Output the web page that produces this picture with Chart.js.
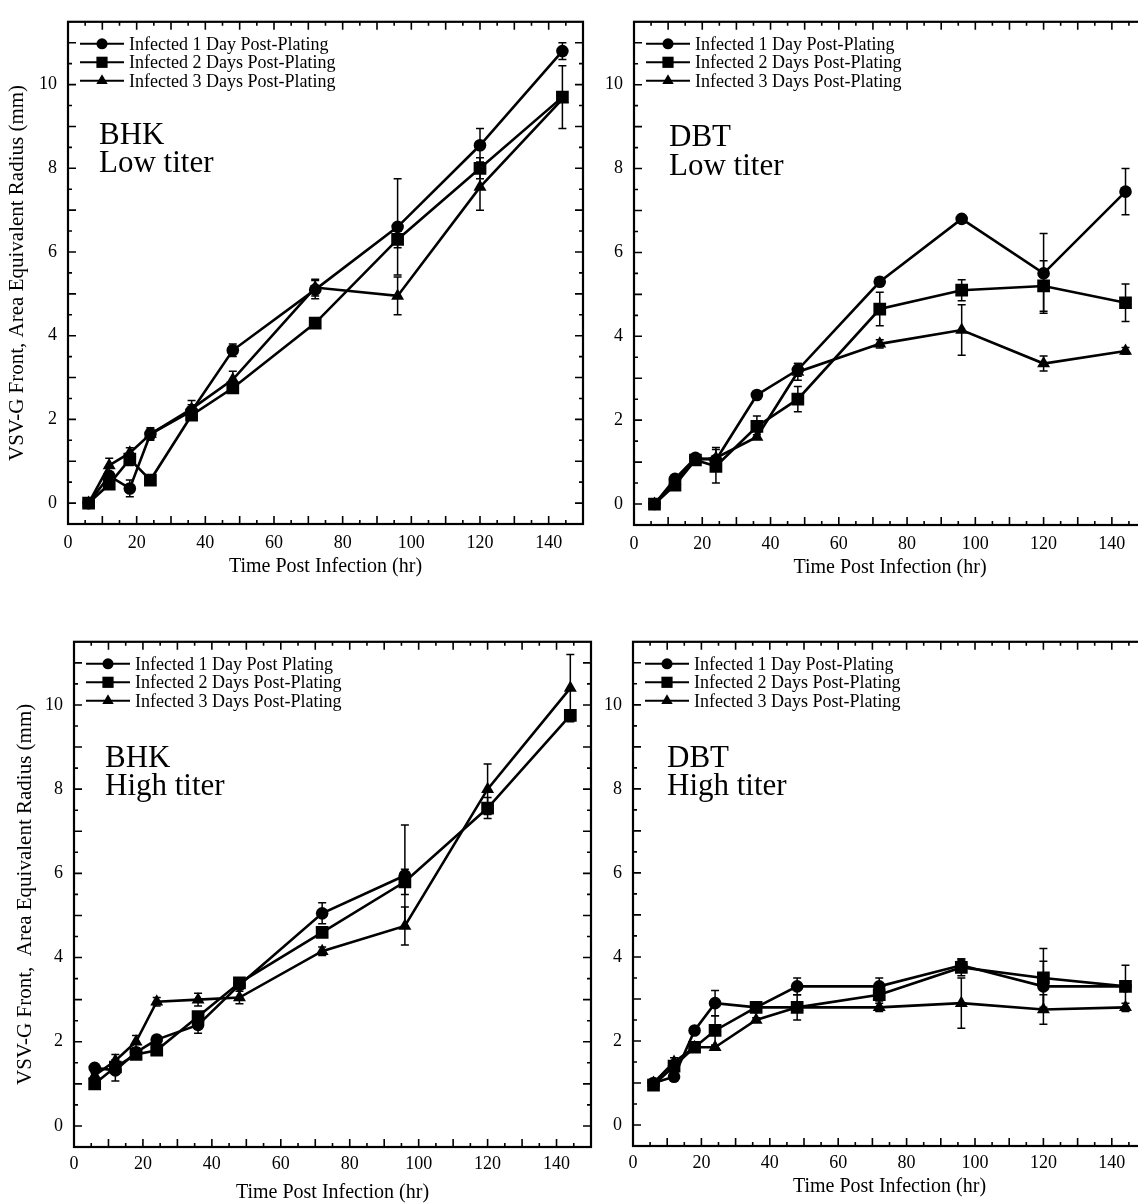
<!DOCTYPE html>
<html>
<head>
<meta charset="utf-8">
<title>VSV-G front vs time post infection</title>
<script src="https://cdn.jsdelivr.net/npm/chart.js@4.4.1/dist/chart.umd.min.js"></script>
<style>
html, body { margin: 0; padding: 0; background: #fff; }
#page { position: relative; width: 1138px; height: 1203px; overflow: hidden; background: #fff; }
#page canvas { position: absolute; }
</style>
</head>
<body>
<div id="page">
  <canvas id="bhkLow" width="592" height="600" style="left:0px;top:0px"></canvas>
  <canvas id="dbtLow" width="580" height="600" style="left:592px;top:0px"></canvas>
  <canvas id="bhkHigh" width="600" height="600" style="left:0px;top:620px"></canvas>
  <canvas id="dbtHigh" width="580" height="600" style="left:592px;top:620px"></canvas>
</div>
<script>
// time points (hr)
var times = [6, 12, 18, 24, 36, 48, 72, 96, 120, 144];
var xTickLabels = [0, 20, 40, 60, 80, 100, 120, 140];
var yTickLabels = [0, 2, 4, 6, 8, 10];

// BHK, low titer
var bhkLow1 = [0, 0.65, 0.35, 1.65, 2.2, 3.65, 5.1, 6.6, 8.55, 10.8];
var bhkLow1Err = [0, 0.1, 0.2, 0.15, 0.15, 0.15, 0.22, 1.15, 0.4, 0.2];
var bhkLow2 = [0, 0.45, 1.05, 0.55, 2.1, 2.75, 4.3, 6.3, 8.0, 9.7];
var bhkLow2Err = [0, 0.1, 0.15, 0.05, 0.1, 0.1, 0.1, 0.2, 0.25, 0.75];
var bhkLow3 = [0, 0.9, 1.2, 1.65, 2.25, 2.95, 5.15, 4.95, 7.55, 9.65];
var bhkLow3Err = [0, 0.17, 0.12, 0.12, 0.2, 0.2, 0.2, 0.45, 0.55, 0];

// DBT, low titer
var dbtLow1 = [0, 0.6, 1.1, 1.05, 2.6, 3.2, 5.3, 6.8, 5.5, 7.45];
var dbtLow1Err = [0, 0.05, 0.05, 0.1, 0.05, 0.15, 0.05, 0.05, 0.95, 0.55];
var dbtLow2 = [0, 0.45, 1.05, 0.9, 1.85, 2.5, 4.65, 5.1, 5.2, 4.8];
var dbtLow2Err = [0, 0.05, 0.05, 0.4, 0.25, 0.3, 0.4, 0.25, 0.6, 0.45];
var dbtLow3 = [0, 0.55, 1.05, 1.1, 1.6, 3.15, 3.82, 4.15, 3.35, 3.65];
var dbtLow3Err = [0, 0.05, 0.05, 0.25, 0.05, 0.2, 0.1, 0.6, 0.18, 0.08];

// BHK, high titer
var bhkHigh1 = [1.38, 1.32, 1.75, 2.05, 2.4, 3.35, 5.05, 5.95, null, null];
var bhkHigh1Err = [0.05, 0.25, 0.1, 0.1, 0.2, 0.1, 0.25, 1.2, 0, 0];
var bhkHigh2 = [1.0, 1.4, 1.7, 1.8, 2.6, 3.4, 4.6, 5.8, 7.55, 9.75];
var bhkHigh2Err = [0.05, 0.1, 0.1, 0.1, 0.1, 0.1, 0.1, 0.3, 0.25, 0.1];
var bhkHigh3 = [1.2, 1.55, 2.0, 2.95, 3.0, 3.05, 4.15, 4.75, 8.0, 10.4];
var bhkHigh3Err = [0.05, 0.15, 0.15, 0.1, 0.15, 0.15, 0.1, 0.45, 0.6, 0.8];

// DBT, high titer
var dbtHigh1 = [1.0, 1.15, 2.25, 2.9, 2.8, 3.3, 3.3, 3.8, 3.3, 3.3];
var dbtHigh1Err = [0.05, 0.05, 0.05, 0.3, 0.05, 0.2, 0.2, 0.15, 0.6, 0.05];
var dbtHigh2 = [0.95, 1.4, 1.85, 2.25, 2.8, 2.8, 3.1, 3.75, 3.5, 3.3];
var dbtHigh2Err = [0.05, 0.1, 0.05, 0.35, 0.1, 0.3, 0.15, 0.2, 0.7, 0.5];
var dbtHigh3 = [1.0, 1.5, 1.85, 1.85, 2.5, 2.8, 2.8, 2.9, 2.75, 2.8];
var dbtHigh3Err = [0.05, 0.1, 0.05, 0.05, 0.05, 0.05, 0.1, 0.6, 0.35, 0.1];

var legendNames = ['Infected 1 Day Post-Plating', 'Infected 2 Days Post-Plating', 'Infected 3 Days Post-Plating'];
var legendNamesBhkHigh = ['Infected 1 Day Post Plating', 'Infected 2 Days Post-Plating', 'Infected 3 Days Post-Plating'];

var SERIF = "'Liberation Serif', 'Times New Roman', serif";
Chart.defaults.font.family = SERIF;
Chart.defaults.color = '#000';

var markers = [
    { style: 'circle', radius: 6.3 },
    { style: 'rect', radius: 9 },
    { style: 'triangle', radius: 7.5 }
];

// border of the plot + inward ticks on all four sides
var frameTicks = {
    id: 'frameTicks',
    afterDatasetsDraw: function(chart) {
        var a = chart.chartArea, xs = chart.scales.x, ys = chart.scales.y, ctx = chart.ctx;
        ctx.save();
        ctx.strokeStyle = '#000';
        ctx.lineWidth = 1.6;
        ctx.beginPath();
        for (var v = 5; v < 150; v += 5) {
            var px = xs.getPixelForValue(v);
            var len = v % 10 === 0 ? 8 : 4;
            ctx.moveTo(px, a.bottom); ctx.lineTo(px, a.bottom - len);
            ctx.moveTo(px, a.top); ctx.lineTo(px, a.top + len);
        }
        for (var w = 0; w < 11.5; w += 0.5) {
            var py = ys.getPixelForValue(w);
            var l2 = w % 1 === 0 ? 8 : 4;
            ctx.moveTo(a.left, py); ctx.lineTo(a.left + l2, py);
            ctx.moveTo(a.right, py); ctx.lineTo(a.right - l2, py);
        }
        ctx.stroke();
        ctx.lineWidth = 2.2;
        ctx.strokeRect(a.left, a.top, a.right - a.left, a.bottom - a.top);
        ctx.restore();
    }
};

// vertical error bars, taken from dataset.errors
var errorBars = {
    id: 'errorBars',
    afterDatasetsDraw: function(chart) {
        var ctx = chart.ctx, xs = chart.scales.x, ys = chart.scales.y;
        ctx.save();
        ctx.strokeStyle = '#000';
        ctx.lineWidth = 1.5;
        chart.data.datasets.forEach(function(ds) {
            ds.data.forEach(function(p, i) {
                var e = ds.errors[i];
                if (p.y === null || !e) return;
                var x = xs.getPixelForValue(p.x);
                var y1 = ys.getPixelForValue(p.y + e);
                var y2 = ys.getPixelForValue(p.y - e);
                ctx.beginPath();
                ctx.moveTo(x, y1); ctx.lineTo(x, y2);
                ctx.moveTo(x - 4, y1); ctx.lineTo(x + 4, y1);
                ctx.moveTo(x - 4, y2); ctx.lineTo(x + 4, y2);
                ctx.stroke();
            });
        });
        ctx.restore();
    }
};

// legend in the upper left corner and the cell/titer label
var panelText = {
    id: 'panelText',
    afterDraw: function(chart) {
        var ctx = chart.ctx, a = chart.chartArea;
        var o = chart.options.plugins.panelText;
        ctx.save();
        ctx.fillStyle = '#000';
        ctx.strokeStyle = '#000';
        chart.data.datasets.forEach(function(ds, i) {
            var y = a.top + 22 + i * 18.5;
            ctx.lineWidth = 2;
            ctx.beginPath();
            ctx.moveTo(a.left + 12, y); ctx.lineTo(a.left + 56, y);
            ctx.stroke();
            Chart.helpers.drawPoint(ctx, {
                pointStyle: markers[i].style,
                radius: markers[i].radius * 0.88,
                rotation: 0,
                borderWidth: 0
            }, a.left + 34, y);
            ctx.font = '18px ' + SERIF;
            ctx.textBaseline = 'middle';
            ctx.fillText(ds.label, a.left + 61, y + 1);
        });
        ctx.font = '31px ' + SERIF;
        ctx.textBaseline = 'alphabetic';
        ctx.fillText(o.lines[0], a.left + o.dx, o.base[0]);
        ctx.fillText(o.lines[1], a.left + o.dx, o.base[1]);
        ctx.restore();
    }
};

function makePanel(id, series, names, cfg) {
    var datasets = series.map(function(s, k) {
        return {
            label: names[k],
            data: times.map(function(t, i) { return { x: t, y: s[0][i] }; }),
            errors: s[1],
            borderColor: '#000',
            backgroundColor: '#000',
            borderWidth: 2.6,
            pointStyle: markers[k].style,
            pointRadius: markers[k].radius,
            pointBackgroundColor: '#000',
            pointBorderWidth: 0,
            tension: 0,
            spanGaps: false
        };
    });
    return new Chart(document.getElementById(id), {
        type: 'line',
        data: { datasets: datasets },
        plugins: [frameTicks, errorBars, panelText],
        options: {
            responsive: false,
            animation: false,
            devicePixelRatio: 1,
            events: [],
            layout: { padding: { top: cfg.top, right: cfg.right, left: 0, bottom: 0 } },
            plugins: {
                legend: { display: false },
                tooltip: { enabled: false },
                panelText: { lines: cfg.lines, base: cfg.base, dx: cfg.dx }
            },
            scales: {
                x: {
                    type: 'linear',
                    min: 0,
                    max: 150,
                    afterBuildTicks: function(s) { s.ticks = xTickLabels.map(function(v) { return { value: v }; }); },
                    afterFit: function(s) { s.height = cfg.xHeight; },
                    grid: { display: false, drawTicks: false, tickLength: 0 },
                    border: { display: false },
                    ticks: { font: { size: 18 }, color: '#000', padding: cfg.xTickPad, maxRotation: 0, autoSkip: false },
                    title: {
                        display: true,
                        text: 'Time Post Infection (hr)',
                        color: '#000',
                        font: { size: 20 },
                        padding: { top: 0, bottom: cfg.xTitlePad }
                    }
                },
                y: {
                    type: 'linear',
                    min: -0.5,
                    max: 11.5,
                    afterBuildTicks: function(s) { s.ticks = yTickLabels.map(function(v) { return { value: v }; }); },
                    afterFit: function(s) { s.width = cfg.yWidth; },
                    grid: { display: false, drawTicks: false, tickLength: 0 },
                    border: { display: false },
                    ticks: { font: { size: 18 }, color: '#000', padding: 11 },
                    title: {
                        display: !!cfg.yTitle,
                        text: cfg.yTitle || '',
                        color: '#000',
                        font: { size: 21 },
                        padding: { top: cfg.yTitlePad, bottom: 0 }
                    }
                }
            }
        }
    });
}

makePanel('bhkLow',
    [[bhkLow1, bhkLow1Err], [bhkLow2, bhkLow2Err], [bhkLow3, bhkLow3Err]],
    legendNames,
    { top: 13, right: 8, yWidth: 68, xHeight: 76, xTickPad: 8, xTitlePad: 21,
      yTitle: 'VSV-G Front, Area Equivalent Radius (mm)', yTitlePad: 5,
      lines: ['BHK', 'Low titer'], base: [144, 172], dx: 31 });

makePanel('dbtLow',
    [[dbtLow1, dbtLow1Err], [dbtLow2, dbtLow2Err], [dbtLow3, dbtLow3Err]],
    legendNames,
    { top: 14, right: 26, yWidth: 42, xHeight: 75, xTickPad: 8, xTitlePad: 20,
      yTitle: null, yTitlePad: 0,
      lines: ['DBT', 'Low titer'], base: [146, 175], dx: 35 });

makePanel('bhkHigh',
    [[bhkHigh1, bhkHigh1Err], [bhkHigh2, bhkHigh2Err], [bhkHigh3, bhkHigh3Err]],
    legendNamesBhkHigh,
    { top: 16, right: 9, yWidth: 74, xHeight: 73, xTickPad: 6, xTitlePad: 15,
      yTitle: 'VSV-G Front,  Area Equivalent Radius (mm)', yTitlePad: 13,
      lines: ['BHK', 'High titer'], base: [767, 795].map(function(v) { return v - 620; }), dx: 31 });

makePanel('dbtHigh',
    [[dbtHigh1, dbtHigh1Err], [dbtHigh2, dbtHigh2Err], [dbtHigh3, dbtHigh3Err]],
    legendNames,
    { top: 15, right: 26, yWidth: 41, xHeight: 74, xTickPad: 6, xTitlePad: 21,
      yTitle: null, yTitlePad: 0,
      lines: ['DBT', 'High titer'], base: [767, 795].map(function(v) { return v - 620; }), dx: 34 });
</script>
</body>
</html>
